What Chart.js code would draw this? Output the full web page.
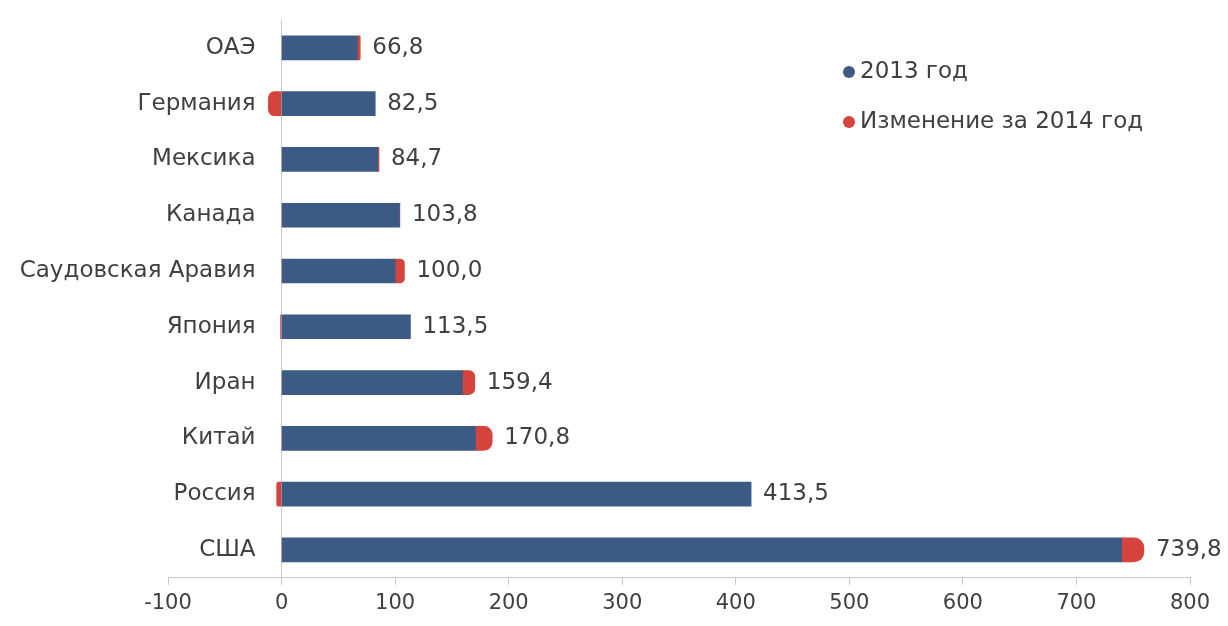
<!DOCTYPE html>
<html>
<head>
<meta charset="utf-8">
<script src="https://cdn.jsdelivr.net/npm/chart.js@4"></script>
<style>
  html, body { margin: 0; padding: 0; background: #fff; }
  #wrap { width: 1228px; height: 626px; }
</style>
</head>
<body>
<div id="wrap"><canvas id="mainChart" width="1228" height="626"></canvas></div>
<script>
// данные
const countries = ["ОАЭ", "Германия", "Мексика", "Канада", "Саудовская Аравия",
                   "Япония", "Иран", "Китай", "Россия", "США"];
const values2013 = [66.8, 82.5, 84.7, 103.8, 100.0, 113.5, 159.4, 170.8, 413.5, 739.8];
const change2014 = [2.5, -11.6, 1.1, 0.4, 8.2, -0.9, 10.8, 14.7, -4.3, 19.6];
const seriesNames = ["2013 год", "Изменение за 2014 год"];
const xTicks = [-100, 0, 100, 200, 300, 400, 500, 600, 700, 800];

const BLUE = "#3b5a84";
const RED  = "#d4433c";
const TEXT = "#404040";
const FAMILY = "'DejaVu Sans', Verdana, sans-serif";
const FONT = "23px " + FAMILY;

// подписи категорий слева от нулевой линии
const categoryLabels = {
  id: "categoryLabels",
  afterDraw(chart) {
    const { ctx, scales: { x, y } } = chart;
    const x0 = x.getPixelForValue(0);
    ctx.save();
    ctx.font = FONT;
    ctx.fillStyle = TEXT;
    ctx.textAlign = "right";
    ctx.textBaseline = "middle";
    countries.forEach((c, i) => ctx.fillText(c, x0 - 26, y.getPixelForValue(i)));
    ctx.restore();
  }
};

// подписи значений
const valueLabels = {
  id: "valueLabels",
  afterDatasetsDraw(chart) {
    const { ctx, scales: { x, y } } = chart;
    ctx.save();
    ctx.font = FONT;
    ctx.fillStyle = TEXT;
    ctx.textAlign = "left";
    ctx.textBaseline = "middle";
    values2013.forEach((v, i) => {
      const end = Math.max(v, v + change2014[i]);
      ctx.fillText(v.toFixed(1).replace(".", ","), x.getPixelForValue(end) + 12, y.getPixelForValue(i));
    });
    ctx.restore();
  }
};

// легенда в правом верхнем углу
const floatLegend = {
  id: "floatLegend",
  afterDraw(chart) {
    const { ctx } = chart;
    const colors = [BLUE, RED];
    ctx.save();
    ctx.font = FONT;
    ctx.textBaseline = "middle";
    seriesNames.forEach((name, i) => {
      const yy = 72 + i * 50;
      ctx.fillStyle = colors[i];
      ctx.beginPath();
      ctx.arc(849, yy, 6, 0, Math.PI * 2);
      ctx.fill();
      ctx.fillStyle = TEXT;
      ctx.fillText(name, 860, yy);
    });
    ctx.restore();
  }
};

const ctx = document.getElementById("mainChart").getContext("2d");
new Chart(ctx, {
  type: "bar",
  data: {
    labels: countries,
    datasets: [
      { label: seriesNames[0], data: values2013, backgroundColor: BLUE, barThickness: 24 },
      { label: seriesNames[1], data: change2014, backgroundColor: RED, barThickness: 24,
        borderRadius: 10, borderSkipped: "start" }
    ]
  },
  options: {
    indexAxis: "y",
    responsive: false,
    animation: false,
    layout: { padding: { left: 168, right: 38, top: 20, bottom: 4 } },
    plugins: { legend: { display: false }, tooltip: { enabled: false } },
    scales: {
      x: {
        stacked: true,
        min: -100, max: 800,
        afterBuildTicks: (s) => { s.ticks = xTicks.map(v => ({ value: v })); },
        grid: {
          color: (c) => (c.tick && c.tick.value === 0 ? "#c8c8c8" : "transparent"),
          tickColor: "#c8c8c8",
          tickLength: 7
        },
        border: { color: "#c8c8c8" },
        ticks: { color: TEXT, font: { family: FAMILY, size: 21 }, padding: 6 }
      },
      y: {
        stacked: true,
        display: false
      }
    }
  },
  plugins: [categoryLabels, valueLabels, floatLegend]
});
</script>
</body>
</html>
